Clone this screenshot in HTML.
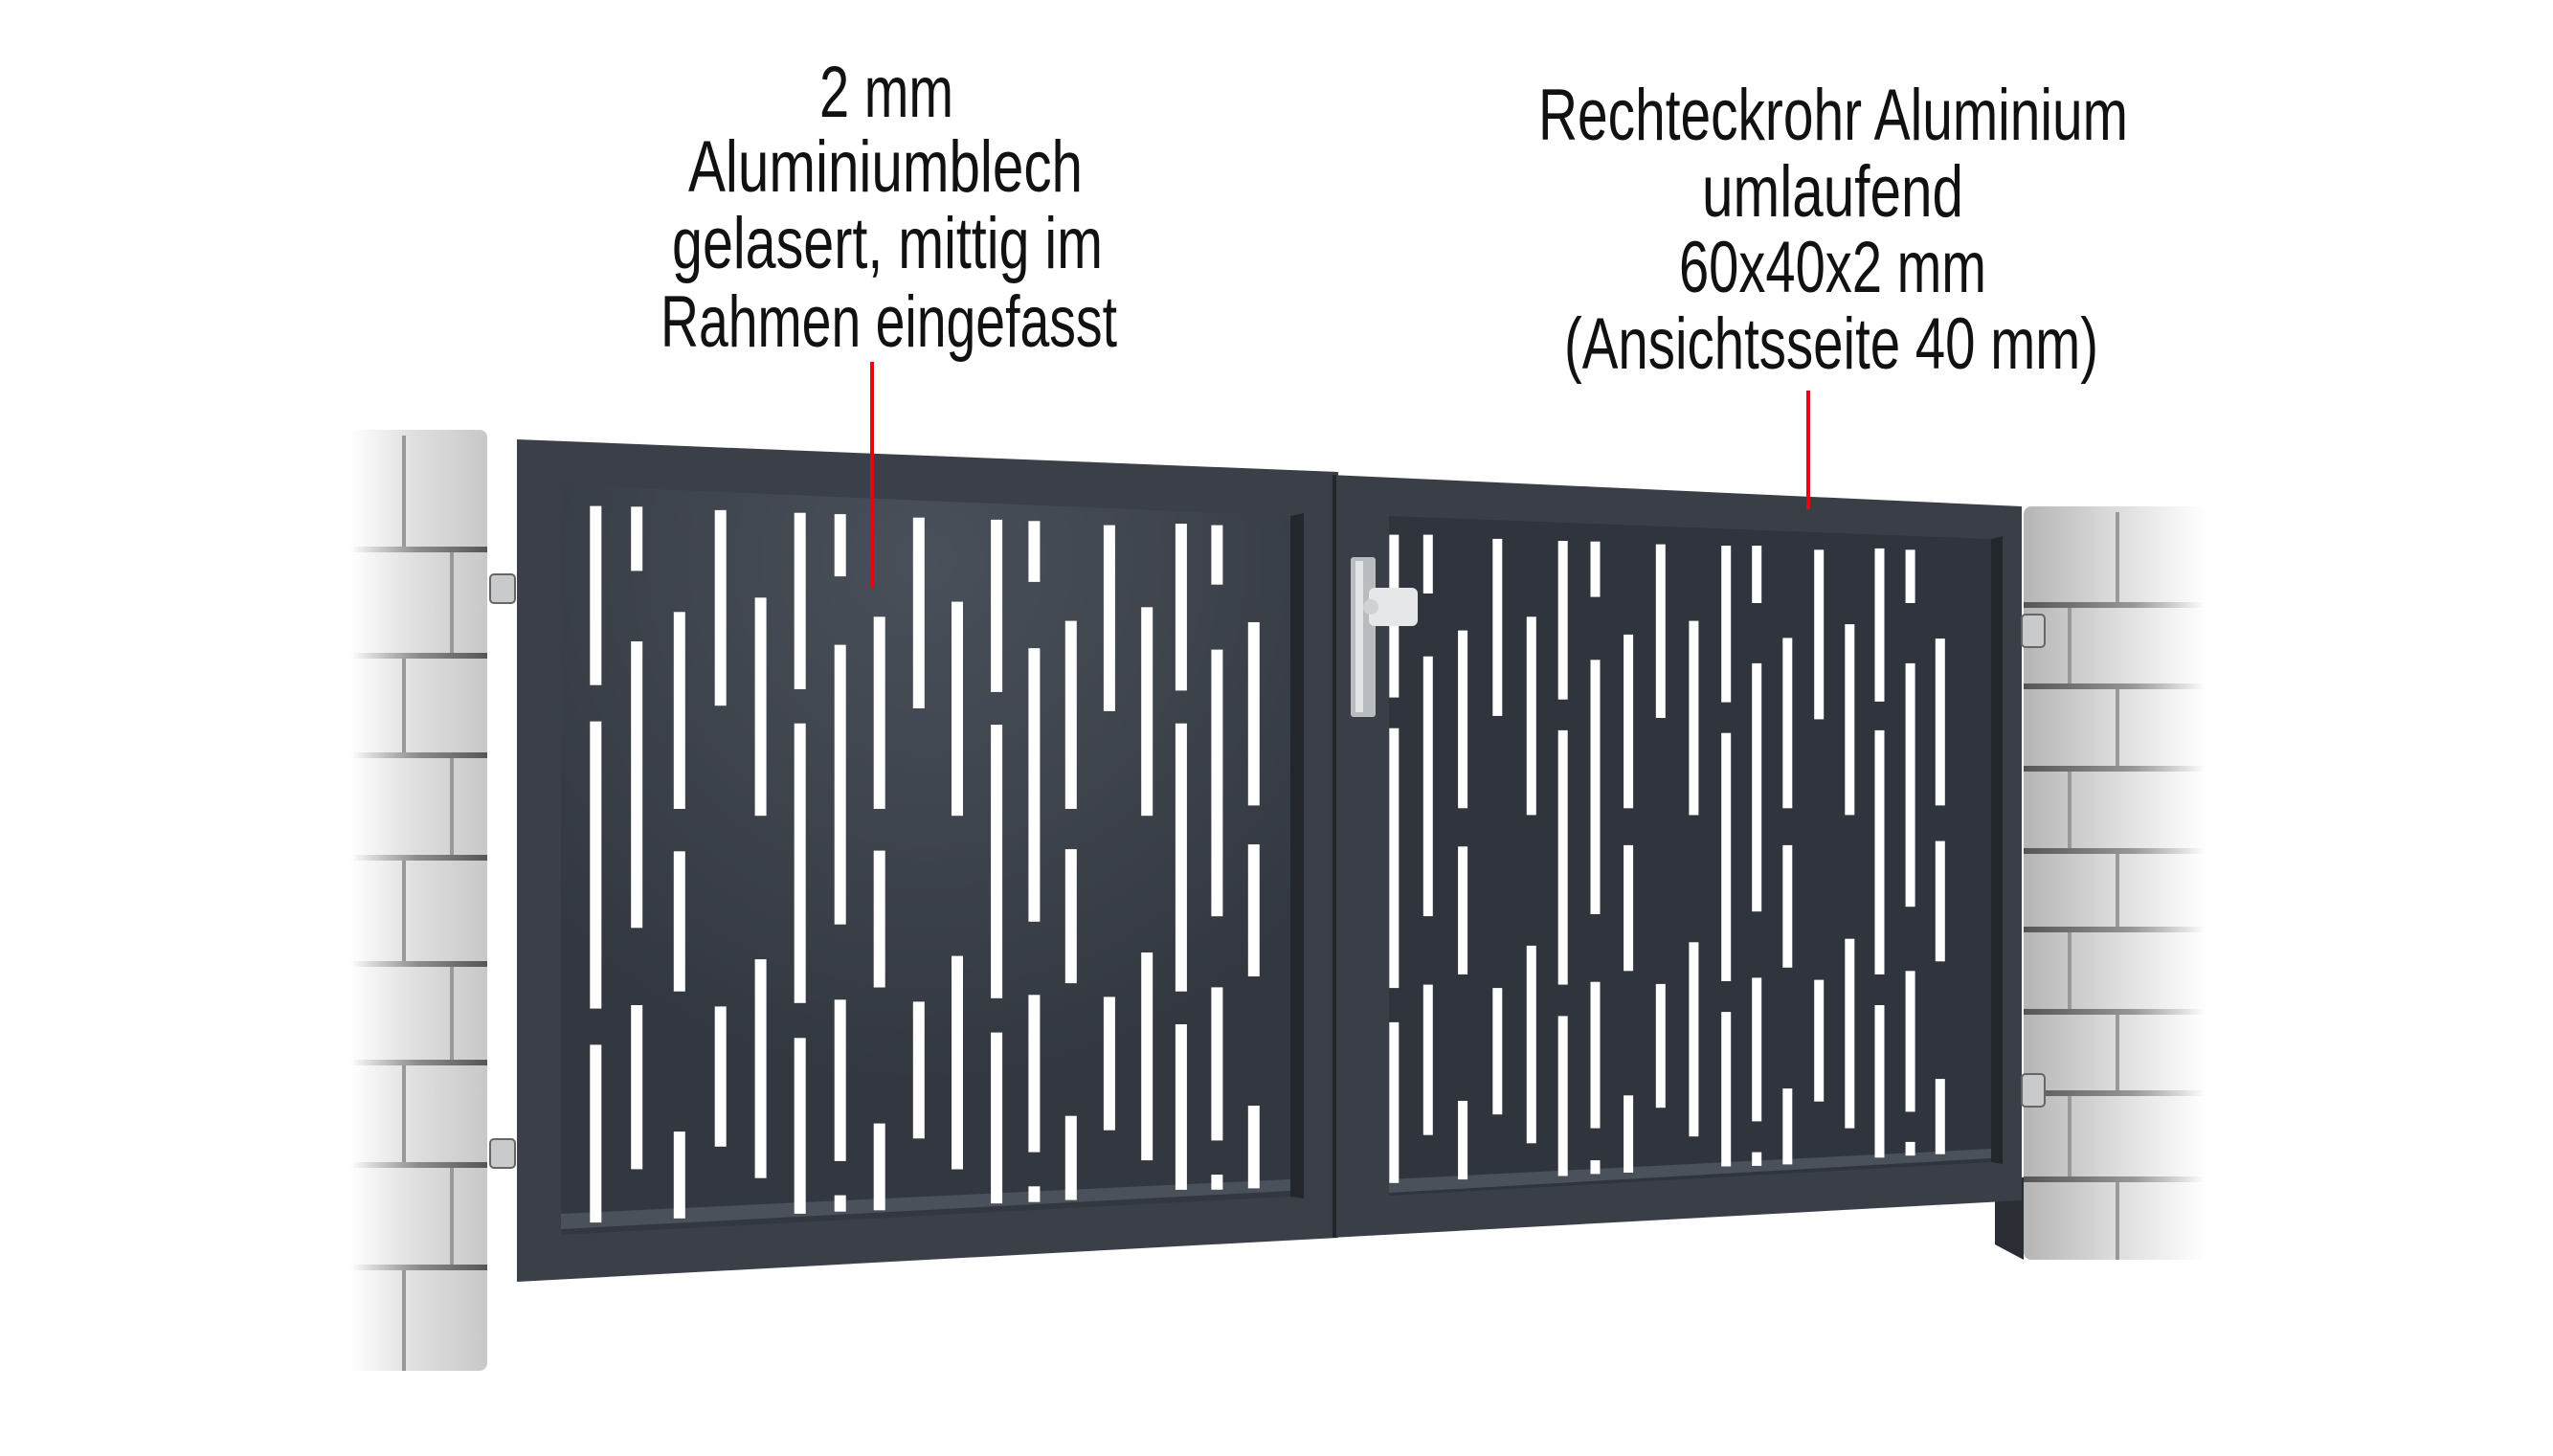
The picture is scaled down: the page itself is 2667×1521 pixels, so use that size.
<!DOCTYPE html>
<html><head><meta charset="utf-8"><style>
html,body{margin:0;padding:0;background:#fff;}
svg{display:block;}
text{font-family:"Liberation Sans Narrow","Liberation Sans",sans-serif;fill:#111;}
</style></head><body>
<svg id="s" width="2667" height="1521" viewBox="0 0 2667 1521" xmlns="http://www.w3.org/2000/svg">
<defs>
<linearGradient id="pl" x1="0" x2="1" y1="0" y2="0">
<stop offset="0" stop-color="#fff"/><stop offset="0.45" stop-color="#e0e0e0"/><stop offset="1" stop-color="#c8c8c8"/></linearGradient>
<linearGradient id="pr" x1="0" x2="1" y1="0" y2="0">
<stop offset="0" stop-color="#b5b5b5"/><stop offset="0.5" stop-color="#dcdcdc"/><stop offset="1" stop-color="#fff"/></linearGradient>
<linearGradient id="ml" x1="0" x2="1"><stop offset="0" stop-color="#888" stop-opacity="0"/><stop offset="0.5" stop-color="#777" stop-opacity="0.8"/><stop offset="1" stop-color="#555"/></linearGradient>
<linearGradient id="mr" x1="0" x2="1"><stop offset="0" stop-color="#555"/><stop offset="0.6" stop-color="#777" stop-opacity="0.7"/><stop offset="1" stop-color="#888" stop-opacity="0"/></linearGradient>
<radialGradient id="sh" cx="0.5" cy="0.1" r="0.7"><stop offset="0" stop-color="#4a5059"/><stop offset="1" stop-color="#333840"/></radialGradient>
</defs>
<rect x="366" y="449" width="143" height="983" rx="8" fill="url(#pl)"/>
<g id="lm"></g>
<polygon points="2084,1230 2114,1230 2114,1316 2084,1300" fill="#2a2e34"/>
<rect x="2114" y="529" width="190" height="787" rx="8" fill="url(#pr)"/>
<g id="rm"></g>
<polygon points="540,459 1398,493 1398,1293 540,1339" fill="#3b4048"/>
<polygon points="586,507 1348,539 1348,1250 586,1290" fill="url(#sh)"/>
<polygon points="586,1268 1348,1232 1348,1244 586,1284" fill="#4b515a"/>
<polygon points="1348,539 1362,536 1362,1252 1348,1250" fill="#23272c"/>
<polygon points="1390,496 2112,529 2112,1254 1390,1293" fill="#3a3f47"/>
<line x1="1394" y1="496" x2="1394" y2="1293" stroke="#22262b" stroke-width="4"/>
<polygon points="1451,539 2080,563 2080,1214 1451,1249" fill="#30353d"/>
<polygon points="1451,1232 2080,1200 2080,1210 1451,1246" fill="#4b515a"/>
<polygon points="2080,563 2092,560 2092,1216 2080,1214" fill="#23272c"/>
<g id="slots" fill="#fff"></g>
<rect x="1411" y="582" width="26" height="167" rx="3" fill="#b9bcbf"/>
<rect x="1416" y="586" width="8" height="158" fill="#e2e4e6"/>
<rect x="1430" y="614" width="51" height="40" rx="6" fill="#e6e7e8"/>
<circle cx="1432" cy="634" r="8" fill="#cfd1d3"/>
<rect x="512" y="600" width="26" height="30" rx="4" fill="#c8cacc" stroke="#666" stroke-width="2"/>
<rect x="512" y="1190" width="26" height="30" rx="4" fill="#c8cacc" stroke="#666" stroke-width="2"/>
<rect x="2112" y="642" width="24" height="34" rx="4" fill="#c8cacc" stroke="#666" stroke-width="2"/>
<rect x="2112" y="1122" width="24" height="34" rx="4" fill="#c8cacc" stroke="#666" stroke-width="2"/>
<line x1="911" y1="378" x2="911" y2="614" stroke="#e30613" stroke-width="4"/>
<line x1="1889" y1="408" x2="1889" y2="532" stroke="#e30613" stroke-width="4"/>
<g font-size="76">
<text x="856" y="122" textLength="140" lengthAdjust="spacingAndGlyphs">2 mm</text>
<text x="719" y="200" textLength="412" lengthAdjust="spacingAndGlyphs">Aluminiumblech</text>
<text x="702" y="280" textLength="450" lengthAdjust="spacingAndGlyphs">gelasert, mittig im</text>
<text x="690" y="362" textLength="477" lengthAdjust="spacingAndGlyphs">Rahmen eingefasst</text>
<text x="1607" y="146" textLength="616" lengthAdjust="spacingAndGlyphs">Rechteckrohr Aluminium</text>
<text x="1778" y="226" textLength="273" lengthAdjust="spacingAndGlyphs">umlaufend</text>
<text x="1754" y="305" textLength="321" lengthAdjust="spacingAndGlyphs">60x40x2 mm</text>
<text x="1634" y="385" textLength="558" lengthAdjust="spacingAndGlyphs">(Ansichtsseite 40 mm)</text>
</g>
</svg>
<script>
var NS="http://www.w3.org/2000/svg";
function r(g,x,y,w,h,f){var e=document.createElementNS(NS,"rect");e.setAttribute("x",x);e.setAttribute("y",y);e.setAttribute("width",w);e.setAttribute("height",h);if(f)e.setAttribute("fill",f);g.appendChild(e);}
var lm=document.getElementById("lm");
var ly=[449,571,682,786,893,1004,1107,1214,1321,1432];
for(var i=1;i<ly.length-1;i++)r(lm,366,ly[i],143,6,"url(#ml)");
for(var i=0;i<ly.length-1;i++){r(lm,i%2?470:420,ly[i]+6,4,ly[i+1]-ly[i]-6,"#999");}
var rm=document.getElementById("rm");
var ry=[529,629,714,800,886,968,1054,1139,1229,1316];
for(var i=1;i<ry.length-1;i++)r(rm,2114,ry[i],190,6,"url(#mr)");
for(var i=0;i<ry.length-1;i++){r(rm,i%2?2160:2210,ry[i]+6,4,ry[i+1]-ry[i]-6,"#999");}
var g=document.getElementById("slots");
var L=[[697,[180,442,495,915,968,1228]],[745,[181,275,378,797,910,1150]],[795,[335,623,685,890,1095,1222]],[843,[186,472,912,1117]],[890,[314,633,843,1163]],[936,[190,448,498,907,958,1215]],[983,[192,283,383,792,902,1138,1188,1212]],[1029,[342,623,684,884,1083,1210]],[1075,[197,476,905,1105]],[1120,[320,633,838,1150]],[1166,[200,452,500,900,950,1200]],[1210,[202,291,388,788,895,1125,1175,1198]],[1253,[348,623,682,878,1072,1195]],[1298,[208,480,898,1093]],[1342,[328,633,833,1137]],[1382,[206,450,498,890,938,1180]],[1424,[208,295,390,780,884,1108,1158,1180]],[1467,[350,618,675,868,1057,1178]]];
L.forEach(function(c){var x=c[0]/1.12-6;for(var i=0;i<c[1].length;i+=2){var y1=400+c[1][i]/1.4,y2=400+c[1][i+1]/1.4;r(g,x.toFixed(1),y1.toFixed(1),12,(y2-y1).toFixed(1));}});
var R=[[126,[222,460,505,885,935,1170]],[168,[222,308,400,780,880,1100]],[211,[362,622,678,865,1050,1165]],[254,[228,487,885,1070]],[296,[342,632,823,1112]],[335,[231,463,508,880,926,1160]],[375,[232,313,405,777,876,1090,1137,1157]],[416,[368,622,676,860,1042,1155]],[456,[236,490,879,1060]],[497,[348,632,818,1102]],[537,[238,467,512,875,920,1146]],[575,[238,322,410,773,870,1080,1125,1145]],[613,[373,622,676,855,1032,1143]],[652,[244,492,873,1051]],[690,[353,632,813,1090]],[727,[242,466,508,865,910,1133]],[765,[244,322,410,766,860,1066,1110,1130]],[802,[374,618,670,846,1018,1128]]];
R.forEach(function(c){var x=1350+c[0]/1.185-5;for(var i=0;i<c[1].length;i+=2){var y1=400+c[1][i]/1.4,y2=400+c[1][i+1]/1.4;r(g,x.toFixed(1),y1.toFixed(1),10,(y2-y1).toFixed(1));}});
</script>
</body></html>
